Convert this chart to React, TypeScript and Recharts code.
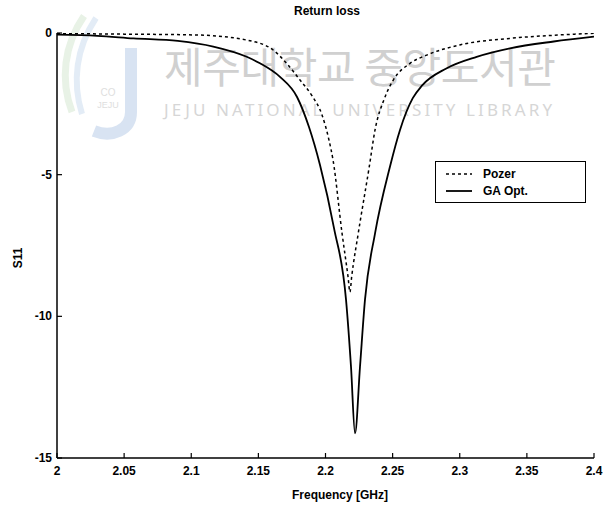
import { Line, LineChart, XAxis, YAxis } from "recharts";

const freqTicks = [2, 2.05, 2.1, 2.15, 2.2, 2.25, 2.3, 2.35, 2.4];
const s11Ticks = [0, -5, -10, -15];

const pozerFreq = [
  2.0, 2.05, 2.104, 2.1413, 2.161, 2.171, 2.181, 2.19, 2.1974, 2.2026, 2.2056,
  2.2123, 2.2168, 2.2182, 2.2195, 2.2244, 2.2326, 2.2369, 2.244, 2.2505, 2.263,
  2.2754, 2.3, 2.3374, 2.37, 2.4,
];
const pozerS11 = [
  -0.02, -0.04, -0.07, -0.25, -0.6, -1.07, -1.66, -2.22, -2.89, -3.78, -4.48,
  -7.06, -8.61, -9.14, -8.6, -7.07, -4.72, -3.42, -2.3, -1.66, -1.07, -0.78,
  -0.42, -0.19, -0.08, -0.01,
];

const gaFreq = [
  2.0, 2.03, 2.057, 2.09, 2.1164, 2.1413, 2.1512, 2.1661, 2.1788, 2.1877, 2.1959,
  2.2063, 2.2153, 2.219, 2.222, 2.2257, 2.2294, 2.2369, 2.248, 2.2555, 2.265,
  2.272, 2.29, 2.3126, 2.3374, 2.37, 2.4,
];
const gaS11 = [
  -0.06, -0.1, -0.19, -0.28, -0.48, -0.84, -1.07, -1.55, -2.26, -3.32, -4.66,
  -6.88, -9.42, -11.78, -14.13, -11.78, -9.42, -7.07, -4.72, -3.42, -2.3, -1.85,
  -1.25, -0.84, -0.54, -0.3, -0.13,
];

const pozerData = pozerFreq.map((f, i) => ({ f, s11: pozerS11[i] }));
const gaData = gaFreq.map((f, i) => ({ f, s11: gaS11[i] }));

const font = '"Liberation Sans", Arial, sans-serif';
const fmt = (v: number) => String(Number(v.toFixed(2)));

const BottomTick = (props: any) => {
  const { x, y, payload } = props;
  return (
    <g>
      <line x1={x} y1={y} x2={x} y2={y - 5} stroke="#000" strokeWidth={1.2} />
      <text x={x} y={y + 17} textAnchor="middle" fontSize={12} fontWeight="bold" fill="#000" fontFamily={font}>
        {fmt(payload.value)}
      </text>
    </g>
  );
};

const TopTick = (props: any) => {
  const { x, y } = props;
  return <line x1={x} y1={y} x2={x} y2={y + 5} stroke="#000" strokeWidth={1.2} />;
};

const LeftTick = (props: any) => {
  const { x, y, payload } = props;
  return (
    <g>
      <line x1={x} y1={y} x2={x + 5} y2={y} stroke="#000" strokeWidth={1.2} />
      <text x={x - 5} y={y + 4} textAnchor="end" fontSize={12} fontWeight="bold" fill="#000" fontFamily={font}>
        {payload.value}
      </text>
    </g>
  );
};

const RightTick = (props: any) => {
  const { x, y } = props;
  return <line x1={x} y1={y} x2={x - 5} y2={y} stroke="#000" strokeWidth={1.2} />;
};

const LegendBox = () => (
  <div
    style={{
      position: "absolute",
      left: 435,
      top: 161,
      width: 151,
      height: 42,
      border: "1.5px solid #000",
      background: "#fff",
      boxSizing: "border-box",
      fontFamily: font,
      fontSize: 12,
      fontWeight: "bold",
      padding: "3px 0 0 10px",
    }}
  >
    <div style={{ display: "flex", alignItems: "center", height: 17 }}>
      <svg width={26} height={4}>
        <line x1={0} y1={2} x2={26} y2={2} stroke="#000" strokeWidth={1.5} strokeDasharray="3 3" />
      </svg>
      <span style={{ marginLeft: 11 }}>Pozer</span>
    </div>
    <div style={{ display: "flex", alignItems: "center", height: 17 }}>
      <svg width={26} height={4}>
        <line x1={0} y1={2} x2={26} y2={2} stroke="#000" strokeWidth={1.8} />
      </svg>
      <span style={{ marginLeft: 11 }}>GA Opt.</span>
    </div>
  </div>
);

export default function App() {
  return (
    <div style={{ position: "absolute", left: 0, top: 0, width: 607, height: 507, background: "#fff" }}>
      <svg width={607} height={507} style={{ position: "absolute", left: 0, top: 0 }}>
        {/* faint library stamp behind the plot */}
        <path d="M84 16 C64 45 60 80 72 112" stroke="#e8f2e6" strokeWidth={7} fill="none" />
        <path d="M96 18 C76 48 72 82 82 114" stroke="#e3ecf6" strokeWidth={6} fill="none" />
        <path d="M131 48 L131 112 C131 130 112 138 94 131" stroke="#d8e3f2" strokeWidth={12} fill="none" />
        <text x={108} y={96} textAnchor="middle" fontSize={10} fill="#dedede" fontFamily={font}>CO</text>
        <text x={108} y={108} textAnchor="middle" fontSize={9} fill="#dedede" fontFamily={font}>JEJU</text>
        <text x={360} y={83} textAnchor="middle" fontSize={42} fill="#d0d0d0" fontFamily='"Noto Sans CJK KR", sans-serif' textLength={392} lengthAdjust="spacing">
          제주대학교 중앙도서관
        </text>
        <text x={358} y={116} textAnchor="middle" fontSize={17} fill="#d6d6d6" fontFamily='"Noto Sans", sans-serif' textLength={388} lengthAdjust="spacing">
          JEJU NATIONAL UNIVERSITY LIBRARY
        </text>
      </svg>
      <div style={{ position: "absolute", left: 0, top: 0 }}>
        <LineChart width={607} height={507} margin={{ top: 33, right: 13, bottom: 19, left: 27 }}>
          <XAxis
            xAxisId="b"
            dataKey="f"
            type="number"
            domain={[2, 2.4]}
            ticks={freqTicks}
            height={30}
            tickSize={0}
            tickMargin={0}
            tick={<BottomTick />}
            axisLine={{ stroke: "#000", strokeWidth: 1.5 }}
            tickLine={false}
            allowDataOverflow
          />
          <XAxis
            xAxisId="t"
            orientation="top"
            dataKey="f"
            type="number"
            domain={[2, 2.4]}
            ticks={freqTicks}
            height={0}
            tickSize={0}
            tickMargin={0}
            tick={<TopTick />}
            axisLine={{ stroke: "#000", strokeWidth: 1.5 }}
            tickLine={false}
            allowDataOverflow
          />
          <YAxis
            yAxisId="l"
            type="number"
            domain={[-15, 0]}
            ticks={s11Ticks}
            width={30}
            tickSize={0}
            tickMargin={0}
            tick={<LeftTick />}
            axisLine={{ stroke: "#000", strokeWidth: 1.5 }}
            tickLine={false}
            allowDataOverflow
          />
          <YAxis
            yAxisId="r"
            orientation="right"
            type="number"
            domain={[-15, 0]}
            ticks={s11Ticks}
            width={0}
            tickSize={0}
            tickMargin={0}
            tick={<RightTick />}
            axisLine={{ stroke: "#000", strokeWidth: 1.5 }}
            tickLine={false}
            allowDataOverflow
          />
          <Line
            data={pozerData}
            xAxisId="b"
            yAxisId="l"
            dataKey="s11"
            name="Pozer"
            type="monotone"
            stroke="#000"
            strokeWidth={1.5}
            strokeDasharray="3 3"
            dot={false}
            isAnimationActive={false}
          />
          <Line
            data={gaData}
            xAxisId="b"
            yAxisId="l"
            dataKey="s11"
            name="GA Opt."
            type="monotone"
            stroke="#000"
            strokeWidth={1.8}
            dot={false}
            isAnimationActive={false}
          />
        </LineChart>
      </div>
      <LegendBox />
      <svg width={607} height={507} style={{ position: "absolute", left: 0, top: 0, pointerEvents: "none" }}>
        <text x={327} y={15} textAnchor="middle" fontSize={12} fontWeight="bold" fontFamily={font}>
          Return loss
        </text>
        <text x={340} y={499} textAnchor="middle" fontSize={12} fontWeight="bold" fontFamily={font}>
          Frequency  [GHz]
        </text>
        <text x={22} y={258} textAnchor="middle" fontSize={12} fontWeight="bold" fontFamily={font} transform="rotate(-90 22 258)">
          S11
        </text>
      </svg>
    </div>
  );
}
